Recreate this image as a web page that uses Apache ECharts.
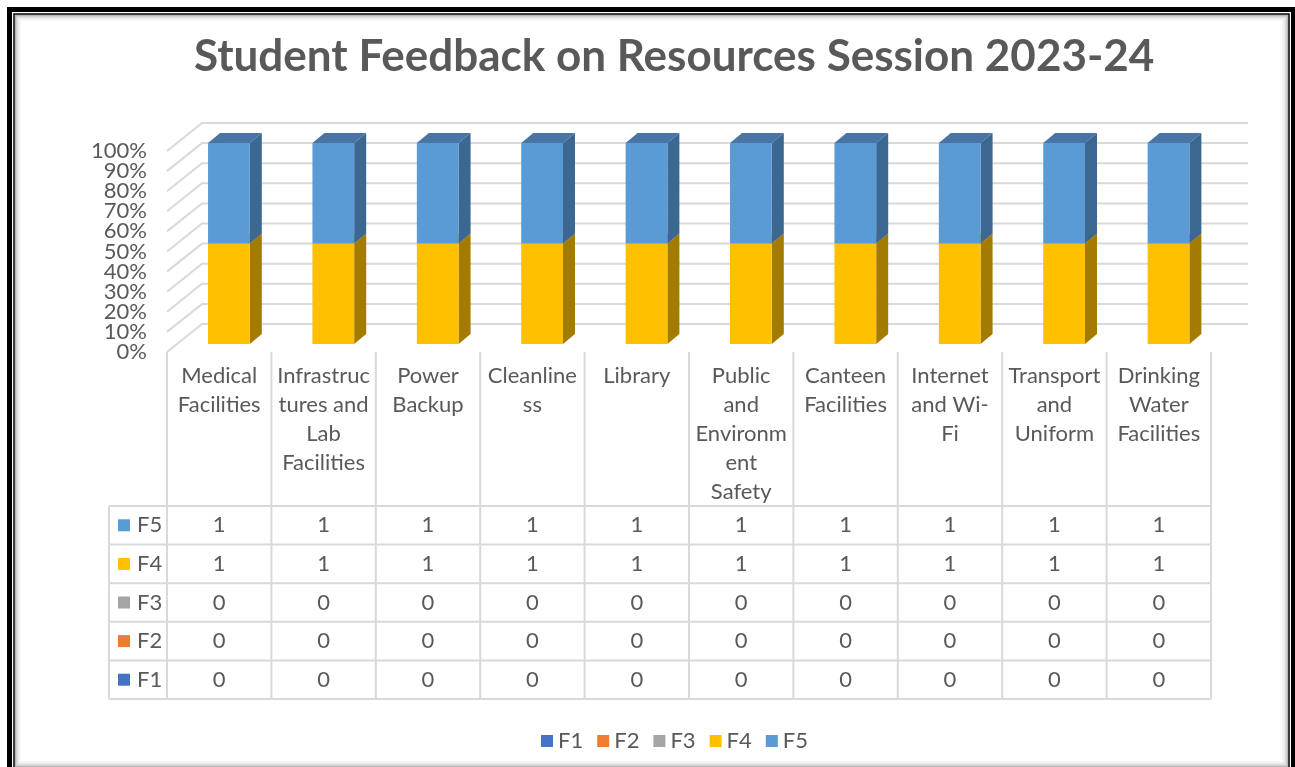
<!DOCTYPE html>
<html>
<head>
<meta charset="utf-8">
<title>Student Feedback on Resources Session 2023-24</title>
<script src="https://cdn.jsdelivr.net/npm/echarts@6/dist/echarts.min.js"></script>
<style>
  html, body { margin: 0; padding: 0; background: #ffffff; }
  #chart { width: 1295px; height: 767px; }
</style>
</head>
<body>
<div id="chart"></div>
<script>
// ---- data ----
const categories = [
  'Medical Facilities', 'Infrastructures and Lab Facilities', 'Power Backup',
  'Cleanliness', 'Library', 'Public and Environment Safety', 'Canteen Facilities',
  'Internet and Wi-Fi', 'Transport and Uniform', 'Drinking Water Facilities'
];
// wrapped header text shown in the data table
const categoryLabels = [
  'Medical\nFacilities', 'Infrastruc\ntures and\nLab\nFacilities', 'Power\nBackup',
  'Cleanline\nss', 'Library', 'Public\nand\nEnvironm\nent\nSafety', 'Canteen\nFacilities',
  'Internet\nand Wi-\nFi', 'Transport\nand\nUniform', 'Drinking\nWater\nFacilities'
];
const seriesNames = ['F1', 'F2', 'F3', 'F4', 'F5'];
const F1 = [0, 0, 0, 0, 0, 0, 0, 0, 0, 0];
const F2 = [0, 0, 0, 0, 0, 0, 0, 0, 0, 0];
const F3 = [0, 0, 0, 0, 0, 0, 0, 0, 0, 0];
const F4 = [1, 1, 1, 1, 1, 1, 1, 1, 1, 1];
const F5 = [1, 1, 1, 1, 1, 1, 1, 1, 1, 1];
const yTicks = [0, 10, 20, 30, 40, 50, 60, 70, 80, 90, 100];

// ---- styles ----
const FONT = 'Lato, "Open Sans", sans-serif';
const TEXT = '#595959';
const GRID_LINE = '#d9d9d9';
const LABEL_SIZE = 22;
const palette = {
  F1: { front: '#4472c4', side: '#2f5190', top: '#3a62a8' },
  F2: { front: '#ed7d31', side: '#a85620', top: '#c96a2a' },
  F3: { front: '#a5a5a5', side: '#737373', top: '#8c8c8c' },
  F4: { front: '#ffc000', side: '#a37b00', top: '#d6a200' },
  F5: { front: '#5b9bd5', side: '#3b6790', top: '#4875a3' }
};
const valuesBySeries = [F1, F2, F3, F4, F5];

// 100% stacking: share of each series per category
const totals = categories.map((_, i) => valuesBySeries.reduce((s, arr) => s + arr[i], 0));
const stacked = [];
{
  const base = categories.map(() => 0);
  valuesBySeries.forEach((arr) => {
    stacked.push(categories.map((_, i) => {
      const pct = totals[i] ? arr[i] / totals[i] * 100 : 0;
      const item = [i, base[i], base[i] + pct];
      base[i] += pct;
      return item;
    }));
  });
}

// 3D depth of the chart walls and of the columns
const WALL_DX = 35, WALL_DY = -28;
const BAR_DX = 12, BAR_DY = -10, BAR_LIFT = -8;

// one gridline per tick: side wall diagonal + back wall line, with its percent label
function wallRender(params, api) {
  const cs = params.coordSys;
  const v = api.value(0);
  const y = api.coord([0, v])[1];
  return {
    type: 'group',
    children: [
      {
        type: 'polyline',
        shape: { points: [
          [cs.x, y],
          [cs.x + WALL_DX, y + WALL_DY],
          [cs.x + cs.width + WALL_DX + 2, y + WALL_DY]
        ] },
        style: { stroke: GRID_LINE, lineWidth: 2, fill: null }
      },
      {
        type: 'text',
        style: { text: v + '%', x: cs.x - 20, y: y, align: 'right', verticalAlign: 'middle',
          fill: TEXT, fontSize: LABEL_SIZE, fontFamily: FONT }
      }
    ]
  };
}

function barRender(name) {
  const col = palette[name];
  return function (params, api) {
    const i = api.value(0), lo = api.value(1), hi = api.value(2);
    if (hi - lo <= 0) return null;
    const band = api.size([1, 0])[0];
    const pb = api.coord([i, lo]);
    const pt = api.coord([i, hi]);
    const x0 = pb[0] - band * 0.107;
    const w = band * 0.40;
    const yb = pb[1] + BAR_LIFT;
    const yt = pt[1] + BAR_LIFT;
    return {
      type: 'group',
      children: [
        { type: 'polygon', shape: { points: [[x0 + w, yb], [x0 + w + BAR_DX, yb + BAR_DY], [x0 + w + BAR_DX, yt + BAR_DY], [x0 + w, yt]] },
          style: { fill: col.side } },
        { type: 'polygon', shape: { points: [[x0, yt], [x0 + w, yt], [x0 + w + BAR_DX, yt + BAR_DY], [x0 + BAR_DX, yt + BAR_DY]] },
          style: { fill: col.top } },
        { type: 'rect', shape: { x: x0, y: yt, width: w, height: yb - yt },
          style: { fill: col.front } }
      ]
    };
  };
}

// data table under the plot: header row of categories, then one row per series (F5 on top)
const HEADER_H = 154, ROW_H = 38.6, KEY_COL = 58;
const tableRows = [4, 3, 2, 1, 0];

function hLine(x1, x2, y) {
  return { type: 'line', shape: { x1: x1, y1: y, x2: x2, y2: y }, style: { stroke: GRID_LINE, lineWidth: 2 } };
}
function vLine(x, y1, y2) {
  return { type: 'line', shape: { x1: x, y1: y1, x2: x, y2: y2 }, style: { stroke: GRID_LINE, lineWidth: 2 } };
}
function cellText(text, x, y, align) {
  return { type: 'text', style: { text: text, x: x, y: y, align: align || 'center', verticalAlign: 'middle',
    fill: TEXT, fontSize: LABEL_SIZE, fontFamily: FONT } };
}

function tableRender(params, api) {
  const cs = params.coordSys;
  const i = api.value(0);
  const band = api.size([1, 0])[0];
  const cx = api.coord([i, 0])[0];
  const floorY = cs.y + cs.height;
  const left = cx - band / 2, right = cx + band / 2;
  const top = floorY + HEADER_H;
  const bottom = top + ROW_H * tableRows.length;
  const children = [];
  children.push(vLine(left, floorY, bottom));
  if (i === categories.length - 1) children.push(vLine(right, floorY, bottom));
  children.push({ type: 'text', style: { text: categoryLabels[i], x: cx, y: floorY + 9.5, align: 'center', verticalAlign: 'top',
    lineHeight: 29, fill: TEXT, fontSize: LABEL_SIZE, fontFamily: FONT } });
  for (let r = 0; r <= tableRows.length; r++) children.push(hLine(left, right, top + r * ROW_H));
  tableRows.forEach((s, r) => {
    children.push(cellText(String(valuesBySeries[s][i]), cx, top + (r + 0.5) * ROW_H));
  });
  if (i === 0) {
    const kl = left - KEY_COL;
    children.push(vLine(kl, top, bottom));
    for (let r = 0; r <= tableRows.length; r++) children.push(hLine(kl, left, top + r * ROW_H));
    tableRows.forEach((s, r) => {
      const yc = top + (r + 0.5) * ROW_H;
      children.push({ type: 'rect', shape: { x: kl + 9, y: yc - 6, width: 12, height: 12 },
        style: { fill: palette[seriesNames[s]].front } });
      children.push(cellText(seriesNames[s], kl + 28, yc, 'left'));
    });
  }
  return { type: 'group', children: children };
}

const series = [
  {
    name: 'walls', type: 'custom', renderItem: wallRender, silent: true, z: 1,
    data: yTicks.map(v => [v]), encode: { y: 0 }
  }
];
seriesNames.forEach((name, s) => {
  series.push({
    name: name, type: 'custom', renderItem: barRender(name), z: 2,
    itemStyle: { color: palette[name].front },
    data: stacked[s], encode: { x: 0, y: [1, 2] }
  });
});
series.push({
  name: 'table', type: 'custom', renderItem: tableRender, silent: true, z: 3,
  data: categories.map((_, i) => [i]), encode: { x: 0 }
});

const chart = echarts.init(document.getElementById('chart'), null, { renderer: 'canvas' });
chart.setOption({
  animation: false,
  backgroundColor: '#ffffff',
  title: {
    text: 'Student Feedback on Resources Session 2023-24',
    left: 189, top: 30,
    textStyle: { color: TEXT, fontSize: 44, fontWeight: 'bold', fontFamily: FONT }
  },
  legend: {
    data: seriesNames,
    left: 541, top: 730, padding: 0,
    icon: 'rect', itemWidth: 12, itemHeight: 12, itemGap: 14,
    selectedMode: false,
    textStyle: { color: TEXT, fontSize: LABEL_SIZE, fontFamily: FONT }
  },
  grid: { left: 167, width: 1044, top: 151, height: 201 },
  xAxis: {
    type: 'category', data: categories,
    axisLine: { show: false }, axisTick: { show: false }, axisLabel: { show: false }, splitLine: { show: false }
  },
  yAxis: {
    type: 'value', min: 0, max: 100, interval: 10,
    axisLine: { show: false }, axisTick: { show: false }, splitLine: { show: false },
    axisLabel: { show: false }
  },
  series: series,
  graphic: [
    // double black frame with a soft inner shadow
    { type: 'rect', silent: true, z: 10, shape: { x: 9.5, y: 9.5, width: 1284, height: 800 },
      style: { fill: null, stroke: '#000', lineWidth: 5 } },
    { type: 'rect', silent: true, z: 10, shape: { x: 14, y: 14, width: 1275, height: 754 },
      style: { fill: null, stroke: '#000', lineWidth: 1.5 } },
    { type: 'rect', silent: true, z: 10, shape: { x: 15.5, y: 15.5, width: 1272, height: 751 },
      style: { fill: null, stroke: 'rgba(0,0,0,0.28)', lineWidth: 1.5 } },
    { type: 'rect', silent: true, z: 10, shape: { x: 17, y: 17, width: 1269, height: 748 },
      style: { fill: null, stroke: 'rgba(0,0,0,0.16)', lineWidth: 1.5 } },
    { type: 'rect', silent: true, z: 10, shape: { x: 18.5, y: 18.5, width: 1266, height: 745 },
      style: { fill: null, stroke: 'rgba(0,0,0,0.08)', lineWidth: 1.5 } },
    { type: 'rect', silent: true, z: 10, shape: { x: 20, y: 20, width: 1263, height: 742 },
      style: { fill: null, stroke: 'rgba(0,0,0,0.04)', lineWidth: 1.5 } }
  ]
});
</script>
</body>
</html>
